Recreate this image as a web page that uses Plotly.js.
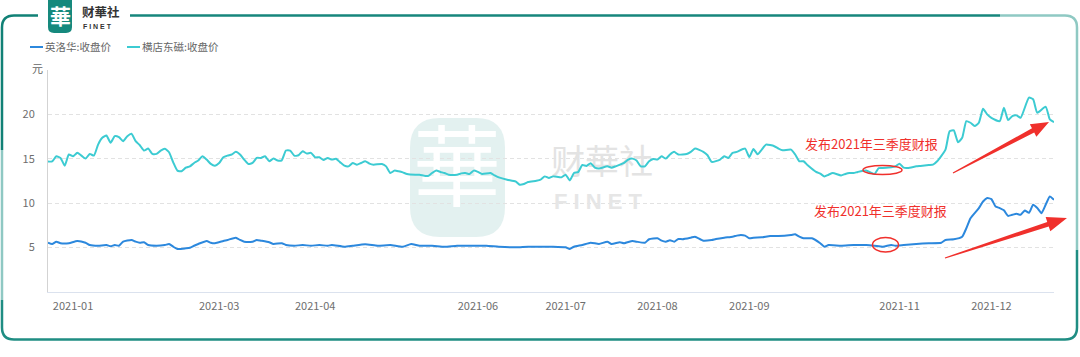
<!DOCTYPE html>
<html><head><meta charset="utf-8">
<script src="https://cdn.plot.ly/plotly-3.0.1.min.js"></script>
<style>html,body{margin:0;padding:0;background:#fff;}#chart{width:1080px;height:357px;}</style>
</head><body><div id="chart"></div>
<script>
// ---- data ----
const seriesNames = ['英洛华:收盘价', '横店东磁:收盘价'];
const tickIdx = [6, 41, 64, 103, 124, 146, 168, 204, 226];
const tickLabels = ['2021-01','2021-03','2021-04','2021-06','2021-07','2021-08','2021-09','2021-11','2021-12'];

// 英洛华 closing price (trading-day index, value)
const ylhDay = [0,1,2,3,5,7,9,10,12,14,
 15,16,17,18,20,21,22,23,24,26,
 28,29,30,31,33,34,35,36,38,39,
 40,42,43,45,46,47,49,50,51,53,
 54,56,57,59,61,63,65,67,68,71,
 73,76,79,82,85,87,89,92,95,98,
 102,105,108,112,115,118,121,124,125,126,
 128,130,132,134,135,137,138,140,141,143,
 144,146,147,148,149,150,151,152,154,155,
 157,159,160,162,164,165,166,167,168,169,
 171,173,175,178,179,180,181,183,185,186,
 187,190,193,196,198,200,202,203,205,208,
 211,214,215,217,219,220,221,223,224,225,
 226,227,228,229,230,231,232,233,234,235,
 236,237,238,239,240,241];
const ylhClose = [5.55,5.41,5.67,5.49,5.49,5.75,5.55,5.29,5.21,5.29,
 5.15,5.29,5.21,5.67,5.86,5.67,5.55,5.6,5.29,5.21,
 5.29,5.41,5.1,4.84,4.92,4.99,5.21,5.41,5.75,5.55,
 5.49,5.75,5.86,6.12,5.86,5.67,5.67,5.86,5.78,5.6,
 5.41,5.49,5.29,5.21,5.29,5.21,5.29,5.21,5.29,5.1,
 5.21,5.37,5.21,5.29,5.1,5.41,5.21,5.21,5.1,5.21,
 5.21,5.21,5.1,5.03,5.1,5.1,5.1,5.03,4.84,5.1,
 5.29,5.55,5.41,5.67,5.41,5.6,5.49,5.75,5.67,5.55,
 5.94,6.05,5.78,5.67,5.83,5.67,5.97,5.94,6.12,6.23,
 5.78,5.86,5.97,6.12,6.23,6.35,6.43,6.35,6.05,6.12,
 6.16,6.31,6.31,6.43,6.5,6.23,6.05,6.05,5.49,5.1,
 5.29,5.21,5.29,5.29,5.21,5.1,5.29,5.21,5.29,5.41,
 5.49,5.55,5.86,5.94,6.23,7.18,8.31,9.45,10.19,10.58,
 10.46,9.63,9.45,9.2,8.57,8.69,8.8,8.69,9.18,8.91,
 9.82,9.45,8.88,9.82,10.76,10.38];

// 横店东磁 closing price (trading-day index, value)
const hdDay = [0,1,2,3,4,5,6,7,8,9,
 10,11,12,13,14,15,16,17,18,19,
 20,21,22,23,24,25,26,27,28,29,
 30,31,32,33,34,35,36,37,38,39,
 40,41,42,43,44,45,46,47,48,49,
 50,51,52,53,54,55,56,57,58,59,
 60,61,62,63,64,65,66,67,68,69,
 70,71,72,73,74,75,76,77,78,80,
 81,82,83,84,85,86,88,89,91,92,
 93,94,95,96,98,99,100,101,102,103,
 104,106,107,108,110,112,113,114,115,117,
 118,119,120,121,123,124,125,126,127,128,
 129,130,131,132,134,135,136,138,139,140,
 141,142,143,144,145,146,147,148,149,150,
 151,153,154,155,157,158,159,161,162,163,
 164,165,167,168,169,170,171,172,174,175,
 176,178,179,180,181,182,184,185,186,187,
 188,190,191,192,193,194,196,198,199,200,
 202,203,204,205,206,208,209,211,212,213,
 215,216,217,218,219,220,221,222,223,224,
 225,226,228,229,230,231,232,233,235,236,
 237,239,240,241];
const hdClose = [14.7,14.7,15.28,15.1,14.23,15.48,15.28,15.67,15.36,15.02,
 15.55,15.36,16.6,17.36,17.62,16.8,17.55,17.43,16.98,17.55,
 17.82,16.98,16.53,15.93,16.15,15.55,15.55,15.93,16.12,15.74,
 14.6,13.67,13.6,14.0,14.15,14.53,14.8,15.28,14.91,14.42,
 14.23,14.53,15.17,15.36,15.48,15.78,15.48,14.91,14.42,14.53,
 15.1,15.1,15.28,14.72,15.02,14.8,14.83,15.93,15.93,15.36,
 15.4,15.85,15.59,15.67,15.17,15.17,14.87,15.1,14.91,15.0,
 14.6,14.23,14.15,14.53,14.34,14.53,14.72,14.46,14.34,14.42,
 14.15,13.4,13.67,13.59,13.47,13.29,13.21,13.21,13.06,13.4,
 13.67,13.52,13.4,13.21,13.21,13.36,13.4,13.29,13.67,13.52,
 13.29,13.4,13.13,12.91,12.65,12.46,12.08,12.16,12.39,12.53,
 12.65,13.02,12.84,13.02,12.91,13.21,12.57,13.4,13.5,14.3,
 14.2,14.5,14.0,13.9,14.15,14.0,14.15,14.53,14.91,15.02,
 14.8,14.15,14.15,14.72,14.98,14.91,15.28,15.02,15.48,15.78,
 15.48,15.55,15.78,16.15,15.78,15.4,14.65,14.91,15.28,15.1,
 15.67,15.78,16.15,15.2,16.1,15.5,16.04,16.6,16.42,16.15,
 15.96,16.04,15.48,14.72,14.72,14.27,13.52,13.33,13.02,13.21,
 13.4,13.13,13.29,13.4,13.4,13.52,13.67,13.29,13.95,13.97,
 14.04,14.15,14.45,14.0,13.97,14.15,14.2,14.3,14.34,14.72,
 16.04,18.11,18.2,16.87,17.36,19.24,19.06,18.68,19.06,20.64,
 20.0,19.62,19.24,20.76,19.36,19.81,19.89,19.62,21.89,21.7,
 20.19,20.87,19.43,19.13];

// ---- layout helpers (pixel -> paper / data) ----
const L = 48, R = 1054, T = 70, B = 292;
const X_MAX = 241, Y_MAX = 25;
const px = X => (X - L) / (R - L);
const py = Y => (B - Y) / (B - T);
const P = (X, Y) => px(X).toFixed(5) + ',' + py(Y).toFixed(5);
const dx = X => (X - L) / (R - L) * X_MAX;
const dy = Y => (B - Y) / (B - T) * Y_MAX;
const CJK = '"Noto Sans CJK SC","Noto Sans",sans-serif';
const BLUE = '#2c88dd', CYAN = '#3ccbd2', RED = '#f0302c';

function arrowPath(x0, y0, x1, y1, headLen, headHalf, tailHalf, shaftHalf) {
  const ddx = x1 - x0, ddy = y1 - y0, len = Math.hypot(ddx, ddy);
  const ux = ddx / len, uy = ddy / len, nx = -uy, ny = ux;
  const bx = x1 - headLen * ux, by = y1 - headLen * uy;
  const pts = [[x0 + nx * tailHalf, y0 + ny * tailHalf], [bx + nx * shaftHalf, by + ny * shaftHalf],
    [bx + nx * headHalf, by + ny * headHalf], [x1, y1], [bx - nx * headHalf, by - ny * headHalf],
    [bx - nx * shaftHalf, by - ny * shaftHalf], [x0 - nx * tailHalf, y0 - ny * tailHalf]];
  return 'M' + pts.map(p => P(p[0], p[1])).join(' L') + ' Z';
}
const pline = (d, color, w) => ({type: 'path', xref: 'paper', yref: 'paper', path: d, line: {color: color, width: w}, layer: 'above'});

const shapes = [
  // watermark blob
  {type: 'path', xref: 'paper', yref: 'paper', layer: 'below', fillcolor: '#e3f1f0', line: {width: 0},
   path: 'M' + P(440,118) + ' L' + P(476,118) + ' Q' + P(505,118) + ' ' + P(505,148) + ' L' + P(505,207) + ' Q' + P(505,237) + ' ' + P(476,237) +
         ' L' + P(440,237) + ' Q' + P(410,237) + ' ' + P(410,207) + ' L' + P(410,148) + ' Q' + P(410,118) + ' ' + P(440,118) + ' Z'},
  // frame
  pline('M' + P(38,15.5) + ' L' + P(14,15.5) + ' Q' + P(2,15.5) + ' ' + P(2,27.5) + ' L' + P(2,150), '#118176', 2.5),
  pline('M' + P(2,150) + ' L' + P(2,300), '#8fc8c3', 2.5),
  pline('M' + P(2,300) + ' L' + P(2,327.5) + ' Q' + P(2,339.5) + ' ' + P(14,339.5) + ' L' + P(1065,339.5) + ' Q' + P(1077,339.5) + ' ' + P(1077,327.5) + ' L' + P(1077,250), '#1f8d83', 2.5),
  pline('M' + P(1077,250) + ' L' + P(1077,27.5) + ' Q' + P(1077,15.5) + ' ' + P(1065,15.5) + ' L' + P(1000,15.5), '#8fc9c3', 2.5),
  pline('M' + P(1000,15.5) + ' L' + P(130,15.5), '#16867c', 2.5),
  // logo icon
  {type: 'path', xref: 'paper', yref: 'paper', layer: 'above', fillcolor: '#16897d', line: {width: 0},
   path: 'M' + P(48,-2) + ' L' + P(72,-2) + ' L' + P(72,27) + ' Q' + P(72,33) + ' ' + P(66,33) + ' L' + P(54,33) + ' Q' + P(48,33) + ' ' + P(48,27) + ' Z'},
  // legend symbols
  {type: 'line', xref: 'paper', yref: 'paper', x0: px(30), x1: px(43), y0: py(47), y1: py(47), line: {color: BLUE, width: 2}},
  {type: 'line', xref: 'paper', yref: 'paper', x0: px(127), x1: px(140), y0: py(47), y1: py(47), line: {color: CYAN, width: 2}},
  // red highlight ellipses
  {type: 'circle', xref: 'paper', yref: 'paper', x0: px(863), x1: px(902), y0: py(174.5), y1: py(165.5), line: {color: RED, width: 1.5}},
  {type: 'circle', xref: 'paper', yref: 'paper', x0: px(872.5), x1: px(898.5), y0: py(252), y1: py(237.5), line: {color: RED, width: 1.5}},
  // red arrows
  {type: 'path', xref: 'paper', yref: 'paper', fillcolor: RED, line: {width: 0}, path: arrowPath(953, 173, 1049, 122, 18, 7, 0.6, 2.4)},
  {type: 'path', xref: 'paper', yref: 'paper', fillcolor: RED, line: {width: 0}, path: arrowPath(945, 258, 1067, 218, 20, 7.5, 0.6, 2.4)}
];

const ann = (X, Y, text, size, color, xa, extra) => Object.assign({xref: 'paper', yref: 'paper', x: px(X), y: py(Y), text: text, showarrow: false,
  xanchor: xa || 'center', yanchor: 'middle', borderpad: 0, font: {family: CJK, size: size, color: color}}, extra || {});

const annotations = [
  ann(60, 15, '<b>華</b>', 21, '#ffffff'),
  ann(81, 11.5, '<b>财華社</b>', 12.5, '#333333', 'left'),
  ann(82, 26, '<b>F I N E T</b>', 7, '#333333', 'left', {font: {family: 'Liberation Sans, Arial, sans-serif', size: 7, color: '#333'}}),
  ann(44, 47, seriesNames[0], 10.5, '#666666', 'left'),
  ann(141, 47, seriesNames[1], 10.5, '#666666', 'left'),
  ann(37, 68, '元', 11, '#666666'),
  ann(871, 143, '发布2021年三季度财报', 13, RED),
  ann(880, 210, '发布2021年三季度财报', 13, RED)
];

const traces = [
  {type: 'scatter', mode: 'text', x: [dx(457)], y: [dy(177)], text: ['華'], textposition: 'middle center',
   textfont: {family: CJK, size: 88, color: '#ffffff'}, hoverinfo: 'skip', cliponaxis: false},
  {type: 'scatter', mode: 'text', x: [dx(602)], y: [dy(165)], text: ['财華社'], textposition: 'middle center',
   textfont: {family: CJK, size: 34, color: '#e3e3e3'}, hoverinfo: 'skip', cliponaxis: false},
  {type: 'scatter', mode: 'text', x: [dx(598)], y: [dy(203)], text: ['F I N E T'], textposition: 'middle center',
   textfont: {family: 'Liberation Sans, Arial, sans-serif', size: 22, color: '#e6e6e6', weight: 700}, hoverinfo: 'skip', cliponaxis: false},
  {type: 'scatter', mode: 'lines', name: seriesNames[0], x: ylhDay, y: ylhClose,
   line: {color: BLUE, width: 2, shape: 'spline', smoothing: 0.5}},
  {type: 'scatter', mode: 'lines', name: seriesNames[1], x: hdDay, y: hdClose,
   line: {color: CYAN, width: 2, shape: 'spline', smoothing: 0.5}}
];

const layout = {
  width: 1080, height: 357,
  margin: {l: L, r: 1080 - R, t: T, b: 357 - B, pad: 0},
  paper_bgcolor: '#ffffff', plot_bgcolor: 'rgba(0,0,0,0)',
  font: {family: CJK, size: 11, color: '#666666'},
  showlegend: false,
  xaxis: {range: [0, X_MAX], tickmode: 'array', tickvals: tickIdx, ticktext: tickLabels,
    showgrid: false, zeroline: false, showline: true, linecolor: '#dbe2ee', linewidth: 1, ticks: '', ticklabelstandoff: 4,
    tickfont: {family: CJK, size: 11, color: '#6e6e6e'}, fixedrange: true},
  yaxis: {range: [0, Y_MAX], tickmode: 'array', tickvals: [0, 5, 10, 15, 20, 25], ticktext: ['', '5', '10', '15', '20', ''],
    showgrid: true, gridcolor: '#e2e2e2', gridwidth: 1, griddash: '4px,3px', zeroline: false,
    showline: true, linecolor: '#d3d3d3', linewidth: 1, ticks: '', ticklabelstandoff: 10,
    tickfont: {family: CJK, size: 11, color: '#6e6e6e'}, fixedrange: true},
  shapes: shapes,
  annotations: annotations
};

Plotly.newPlot('chart', traces, layout, {staticPlot: true, displayModeBar: false});
</script>
</body></html>
